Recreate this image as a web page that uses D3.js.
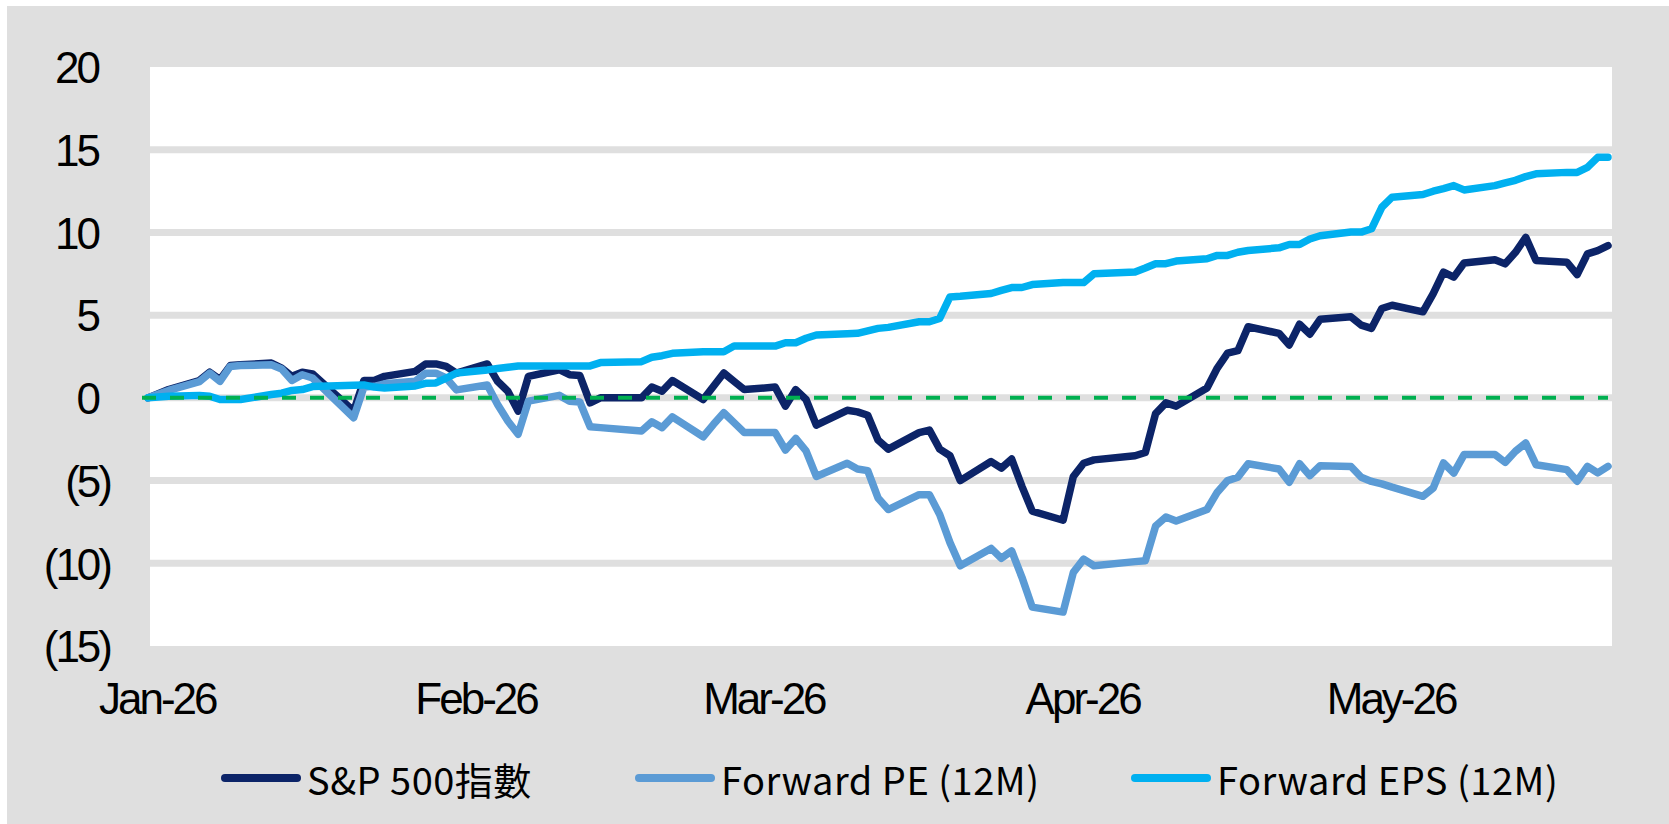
<!DOCTYPE html>
<html>
<head>
<meta charset="utf-8">
<script src="https://cdn.jsdelivr.net/npm/d3@7/dist/d3.min.js"></script>
<style>
  html, body { margin: 0; padding: 0; background: #ffffff; }
  svg { display: block; }
</style>
</head>
<body>
<svg id="chart" width="1669" height="824"></svg>
<script>
// ---------------- DATA ----------------
const dates = [
  "2025-12-31","2026-01-02","2026-01-05","2026-01-06","2026-01-07","2026-01-08","2026-01-09",
  "2026-01-12","2026-01-13","2026-01-14","2026-01-15","2026-01-16",
  "2026-01-20","2026-01-21","2026-01-22","2026-01-23",
  "2026-01-26","2026-01-27","2026-01-28","2026-01-29","2026-01-30",
  "2026-02-02","2026-02-03","2026-02-04","2026-02-05","2026-02-06",
  "2026-02-09","2026-02-10","2026-02-11","2026-02-12","2026-02-13",
  "2026-02-17","2026-02-18","2026-02-19","2026-02-20",
  "2026-02-23","2026-02-24","2026-02-25","2026-02-26","2026-02-27",
  "2026-03-02","2026-03-03","2026-03-04","2026-03-05","2026-03-06",
  "2026-03-09","2026-03-10","2026-03-11","2026-03-12","2026-03-13",
  "2026-03-16","2026-03-17","2026-03-18","2026-03-19","2026-03-20",
  "2026-03-23","2026-03-24","2026-03-25","2026-03-26","2026-03-27",
  "2026-03-30","2026-03-31","2026-04-01","2026-04-02",
  "2026-04-06","2026-04-07","2026-04-08","2026-04-09","2026-04-10",
  "2026-04-13","2026-04-14","2026-04-15","2026-04-16","2026-04-17",
  "2026-04-20","2026-04-21","2026-04-22","2026-04-23","2026-04-24",
  "2026-04-27","2026-04-28","2026-04-29","2026-04-30","2026-05-01",
  "2026-05-04","2026-05-05","2026-05-06","2026-05-07","2026-05-08",
  "2026-05-11","2026-05-12","2026-05-13","2026-05-14","2026-05-15",
  "2026-05-18","2026-05-19","2026-05-20","2026-05-21","2026-05-22"
];

const sp500 = [
  0, 0.5, 1.05, 1.55, 1.1, 1.95, 2.0,
  2.1, 1.8, 1.3, 1.55, 1.45,
  -0.8, 1.05, 1.05, 1.3,
  1.6, 2.05, 2.05, 1.9, 1.5,
  2.05, 1.0, 0.4, -0.8, 1.3,
  1.7, 1.4, 1.35, -0.3, 0.0,
  0.0, 0.65, 0.4, 1.05,
  -0.1, 0.7, 1.5, 1.0, 0.5,
  0.65, -0.5, 0.5, -0.1, -1.65,
  -0.75, -0.85, -1.05, -2.55, -3.1,
  -2.1, -1.95, -3.1, -3.5, -5.0,
  -3.85, -4.25, -3.7, -5.35, -6.85,
  -7.4, -4.75, -3.95, -3.75,
  -3.5, -3.3, -0.95, -0.3, -0.5,
  0.6, 1.8, 2.7, 2.85, 4.3,
  3.9, 3.2, 4.45, 3.85, 4.75,
  4.9, 4.4, 4.2, 5.4, 5.6,
  5.2, 6.3, 7.6, 7.3, 8.15,
  8.35, 8.1, 8.8, 9.7, 8.3,
  8.2, 7.45, 8.7, 8.9, 9.2
];

const forwardPE = [
  0, 0.45, 0.98, 1.5, 1.0, 1.9, 1.95,
  2.0, 1.75, 1.05, 1.4, 1.2,
  -1.2, 0.65, 0.7, 0.85,
  1.0, 1.49, 1.49, 1.2, 0.48,
  0.78, -0.4, -1.4, -2.2, -0.2,
  0.15, -0.2, -0.25, -1.75, -1.8,
  -2.0, -1.45, -1.8, -1.15,
  -2.35, -1.6, -0.9, -1.5, -2.1,
  -2.1, -3.15, -2.45, -3.2, -4.75,
  -3.95, -4.3, -4.4, -6.05, -6.75,
  -5.85, -5.85, -7.05, -8.75, -10.15,
  -9.1, -9.7, -9.25, -10.85, -12.65,
  -12.95, -10.55, -9.75, -10.15,
  -9.9, -9.85, -7.75, -7.2, -7.45,
  -6.75, -5.7, -5.0, -4.8, -3.98,
  -4.3, -5.1, -3.98, -4.7, -4.1,
  -4.15, -4.8, -5.05, -5.2, -5.4,
  -5.95, -5.45, -3.93, -4.55, -3.43,
  -3.43, -3.9, -3.23, -2.73, -4.04,
  -4.34, -5.04, -4.14, -4.54, -4.14
];

const forwardEPS = [
  0, 0.1, 0.15, 0.1, -0.1, -0.1, -0.1,
  0.2, 0.28, 0.45, 0.5, 0.68,
  0.76, 0.78, 0.65, 0.6,
  0.72, 0.88, 0.9, 1.2, 1.5,
  1.69, 1.77, 1.85, 1.93, 1.93,
  1.93, 1.93, 1.93, 1.93, 2.13,
  2.19, 2.45, 2.55, 2.69,
  2.79, 2.79, 2.79, 3.13, 3.13,
  3.13, 3.33, 3.33, 3.6, 3.8,
  3.88, 3.9, 4.05, 4.2, 4.26,
  4.6, 4.6, 4.8, 6.1, 6.14,
  6.31, 6.5, 6.67, 6.67, 6.85,
  6.97, 6.97, 6.97, 7.5,
  7.61, 7.85, 8.11, 8.11, 8.27,
  8.41, 8.61, 8.61, 8.8, 8.91,
  9.07, 9.27, 9.27, 9.6, 9.8,
  10.02, 10.02, 10.22, 11.52, 12.13,
  12.29, 12.49, 12.65, 12.83, 12.57,
  12.83, 13.0, 13.15, 13.38, 13.54,
  13.63, 13.63, 13.93, 14.54, 14.54
];

const seriesNames = ["S&P 500指數", "Forward PE (12M)", "Forward EPS (12M)"];
const seriesColors = ["#0c2468", "#5b9bd5", "#00b0f0"];
const yTickValues = [-15, -10, -5, 0, 5, 10, 15, 20];
const xTickDates = ["2026-01-01", "2026-02-01", "2026-03-01", "2026-04-01", "2026-05-01"];

// ---------------- CHART ----------------
const parse = d3.timeParse("%Y-%m-%d");
const W = 1669, H = 824;
const plot = { left: 150, right: 1612, top: 67, bottom: 646 };
const svg = d3.select("#chart");

svg.append("rect").attr("x", 0).attr("y", 0).attr("width", W).attr("height", H).attr("fill", "#ffffff");
svg.append("rect").attr("x", 7).attr("y", 6).attr("width", W - 7).attr("height", H - 6).attr("fill", "#dfdfdf");
svg.append("rect").attr("x", plot.left).attr("y", plot.top)
  .attr("width", plot.right - plot.left).attr("height", plot.bottom - plot.top).attr("fill", "#ffffff");

const x = d3.scaleTime()
  .domain([parse(dates[0]), parse(dates[dates.length - 1])])
  .range([148, 1608]);
const y = d3.scaleLinear().domain([-15, 20]).range([plot.bottom, plot.top]);

// gridlines
svg.append("g").selectAll("line")
  .data(yTickValues.filter(v => v > -15 && v < 20))
  .join("line")
  .attr("x1", plot.left).attr("x2", plot.right)
  .attr("y1", d => y(d)).attr("y2", d => y(d))
  .attr("stroke", "#dfdfdf").attr("stroke-width", 7);

// series
const series = [sp500, forwardPE, forwardEPS].map((vals, i) => ({
  name: seriesNames[i], color: seriesColors[i],
  points: vals.map((v, j) => ({ date: parse(dates[j]), v }))
}));
const line = d3.line().x(d => x(d.date)).y(d => y(d.v));
svg.append("g").selectAll("path")
  .data(series)
  .join("path")
  .attr("d", d => line(d.points))
  .attr("fill", "none")
  .attr("stroke", d => d.color)
  .attr("stroke-width", 7.5)
  .attr("stroke-linejoin", "round")
  .attr("stroke-linecap", "round");

// zero dashed line
svg.append("line")
  .attr("x1", x.range()[0] - 6).attr("x2", x.range()[1])
  .attr("y1", y(0)).attr("y2", y(0))
  .attr("stroke", "#00b050").attr("stroke-width", 4)
  .attr("stroke-dasharray", "14,14");

// y axis
const fmtY = v => v < 0 ? "(" + Math.abs(v) + ")" : String(v);
const yAxis = svg.append("g").attr("transform", "translate(110,0)")
  .call(d3.axisLeft(y).tickValues(yTickValues).tickFormat(fmtY).tickSize(0).tickPadding(0));
yAxis.select(".domain").remove();
yAxis.selectAll("text")
  .attr("x", d => d < 0 ? 0 : -12)
  .attr("dy", "0.36em")
  .attr("text-anchor", "end")
  .style("font-family", "'Liberation Sans', Arial, sans-serif")
  .style("font-size", "44px")
  .style("letter-spacing", "-3px")
  .attr("fill", "#000");

// x axis
const xAxis = svg.append("g").attr("transform", "translate(0,714)")
  .call(d3.axisBottom(x).tickValues(xTickDates.map(parse))
    .tickFormat(d3.timeFormat("%b-%y")).tickSize(0).tickPadding(0));
xAxis.select(".domain").remove();
xAxis.selectAll("text")
  .attr("y", 0).attr("dy", 0)
  .attr("dx", "-1.5")
  .style("font-family", "'Liberation Sans', Arial, sans-serif")
  .style("font-size", "44px")
  .style("letter-spacing", "-3px")
  .attr("fill", "#000");

// legend
const legendX = [221, 635, 1131];
const leg = svg.append("g").selectAll("g")
  .data(series)
  .join("g")
  .attr("transform", (d, i) => `translate(${legendX[i]},778)`);
leg.append("line")
  .attr("x1", 4).attr("x2", 76).attr("y1", 0).attr("y2", 0)
  .attr("stroke", d => d.color).attr("stroke-width", 8).attr("stroke-linecap", "round");
leg.append("text")
  .attr("x", 86).attr("y", 17)
  .text(d => d.name)
  .style("font-family", "'Noto Sans CJK TC', 'Noto Sans', sans-serif")
  .style("font-size", "38px")
  .style("letter-spacing", "0.5px")
  .attr("fill", "#000");
</script>
</body>
</html>
